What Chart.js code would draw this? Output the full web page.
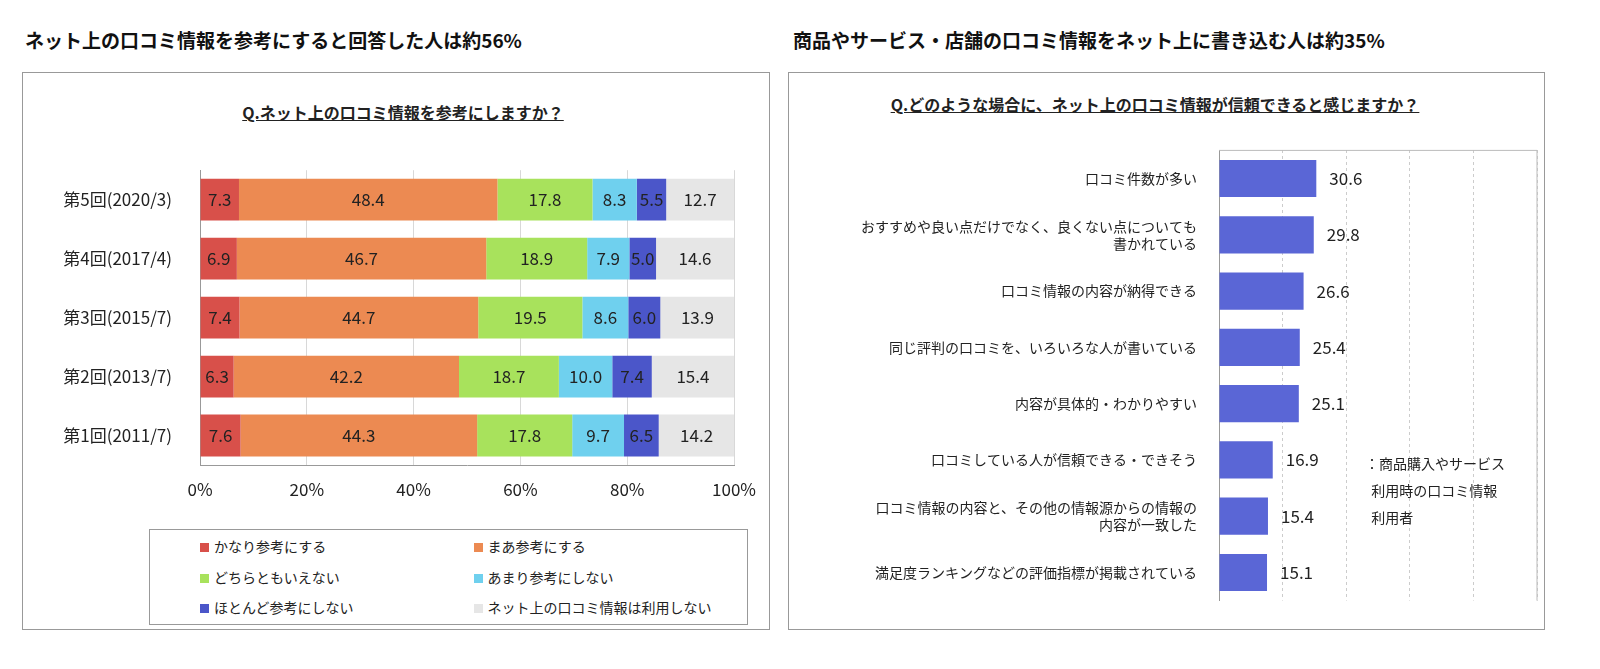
<!DOCTYPE html>
<html><head><meta charset="utf-8">
<script src="https://cdn.jsdelivr.net/npm/chart.js@4"></script>
<style>
body{margin:0;width:1600px;height:669px;background:#fff;font-family:"Noto Sans CJK JP",sans-serif;position:relative;overflow:hidden}
.t{position:absolute;top:26px;font-size:19px;font-weight:bold;color:#111}
.box{position:absolute;border:1px solid #999;box-sizing:border-box}
.sub{position:absolute;font-size:16px;font-weight:bold;text-decoration:underline;color:#222;white-space:nowrap;transform:translateX(-50%)}
.cv{position:absolute}
.leg{position:absolute;left:149px;top:529px;width:599px;height:96px;border:1px solid #999;box-sizing:border-box;display:grid;grid-template-columns:1fr 1fr;padding:6px 0 0 50px;font-size:14px;color:#222;row-gap:4px}
.leg span{display:inline-block;width:9px;height:9px;margin-right:5px}
.note{position:absolute;left:1365px;top:450px;font-size:14px;line-height:27px;color:#222}
</style></head><body>
<div class="t" style="left:25px">ネット上の口コミ情報を参考にすると回答した人は約56%</div>
<div class="t" style="left:793px">商品やサービス・店舗の口コミ情報をネット上に書き込む人は約35%</div>
<div class="box" style="left:22px;top:72px;width:748px;height:558px"></div>
<div class="box" style="left:788px;top:72px;width:757px;height:558px"></div>
<div class="sub" style="left:403px;top:100px">Q.ネット上の口コミ情報を参考にしますか？</div>
<div class="sub" style="left:1155px;top:92px">Q.どのような場合に、ネット上の口コミ情報が信頼できると感じますか？</div>
<div class="cv" style="left:22px;top:140px;width:748px;height:370px"><canvas id="left"></canvas></div>
<div class="cv" style="left:788px;top:128px;width:757px;height:495px"><canvas id="right"></canvas></div>
<div class="leg" id="leg"></div>
<div class="note">：商品購入やサービス<br>&nbsp;&nbsp;利用時の口コミ情報<br>&nbsp;&nbsp;利用者</div>
<script>
var rounds = ['第5回(2020/3)', '第4回(2017/4)', '第3回(2015/7)', '第2回(2013/7)', '第1回(2011/7)'];
var seriesNames = ['かなり参考にする', 'まあ参考にする', 'どちらともいえない', 'あまり参考にしない', 'ほとんど参考にしない', 'ネット上の口コミ情報は利用しない'];
var veryMuch = [7.3, 6.9, 7.4, 6.3, 7.6];
var somewhat = [48.4, 46.7, 44.7, 42.2, 44.3];
var neither = [17.8, 18.9, 19.5, 18.7, 17.8];
var notMuch = [8.3, 7.9, 8.6, 10.0, 9.7];
var hardly = [5.5, 5.0, 6.0, 7.4, 6.5];
var notUse = [12.7, 14.6, 13.9, 15.4, 14.2];
var colors = ['#d8504a', '#ec8a52', '#a8e25c', '#6fd0ee', '#4b56c9', '#e6e6e6'];

var reasons = [
  '口コミ件数が多い',
  ['おすすめや良い点だけでなく、良くない点についても', '書かれている'],
  '口コミ情報の内容が納得できる',
  '同じ評判の口コミを、いろいろな人が書いている',
  '内容が具体的・わかりやすい',
  '口コミしている人が信頼できる・できそう',
  ['口コミ情報の内容と、その他の情報源からの情報の', '内容が一致した'],
  '満足度ランキングなどの評価指標が掲載されている'
];
var reasonValues = [30.6, 29.8, 26.6, 25.4, 25.1, 16.9, 15.4, 15.1];

var font = "'Noto Sans CJK JP', sans-serif";
Chart.defaults.font.family = font;
Chart.defaults.color = '#222';

var segLabels = {
  id: 'segLabels',
  afterDatasetsDraw: function (chart) {
    var ctx = chart.ctx;
    ctx.save();
    ctx.font = '17px ' + font;
    ctx.fillStyle = '#222';
    ctx.textAlign = 'center';
    ctx.textBaseline = 'middle';
    chart.data.datasets.forEach(function (ds, i) {
      chart.getDatasetMeta(i).data.forEach(function (bar, j) {
        ctx.fillText(ds.data[j].toFixed(1), (bar.x + bar.base) / 2, bar.y);
      });
    });
    ctx.restore();
  }
};

var endLabels = {
  id: 'endLabels',
  afterDatasetsDraw: function (chart) {
    var ctx = chart.ctx, a = chart.chartArea;
    ctx.save();
    ctx.strokeStyle = '#bbb';
    ctx.beginPath();
    ctx.moveTo(a.left, a.top); ctx.lineTo(a.right, a.top); ctx.lineTo(a.right, a.bottom);
    ctx.stroke();
    ctx.font = '17px ' + font;
    ctx.fillStyle = '#222';
    ctx.textBaseline = 'middle';
    chart.getDatasetMeta(0).data.forEach(function (bar, j) {
      ctx.fillText(reasonValues[j].toFixed(1), bar.x + 13, bar.y);
    });
    ctx.restore();
  }
};

var leftData = [veryMuch, somewhat, neither, notMuch, hardly, notUse];
new Chart(document.getElementById('left'), {
  type: 'bar',
  data: {
    labels: rounds,
    datasets: leftData.map(function (d, i) {
      return { label: seriesNames[i], data: d, backgroundColor: colors[i], categoryPercentage: 0.71, barPercentage: 1 };
    })
  },
  options: {
    indexAxis: 'y', responsive: true, maintainAspectRatio: false, animation: false,
    layout: { padding: { top: 7, right: 32 } },
    plugins: { legend: { display: false }, tooltip: { enabled: false } },
    scales: {
      x: {
        stacked: true, min: 0, max: 100,
        ticks: { stepSize: 20, callback: function (v) { return v + '%'; }, font: { size: 17 }, padding: 14 },
        grid: { color: '#d8d8d8', drawTicks: false },
        border: { color: '#999' },
        afterFit: function (s) { s.height = 45; }
      },
      y: {
        stacked: true,
        ticks: { font: { size: 17 }, padding: 20 },
        grid: { display: false },
        border: { color: '#999' },
        afterFit: function (s) { s.width = 178; }
      }
    }
  },
  plugins: [segLabels]
});

new Chart(document.getElementById('right'), {
  type: 'bar',
  data: {
    labels: reasons,
    datasets: [{ data: reasonValues, backgroundColor: '#5a66d6', categoryPercentage: 0.66, barPercentage: 1 }]
  },
  options: {
    indexAxis: 'y', responsive: true, maintainAspectRatio: false, animation: false,
    layout: { padding: { top: 5, right: 8, bottom: 6 } },
    plugins: { legend: { display: false }, tooltip: { enabled: false } },
    scales: {
      x: {
        min: 0, max: 100,
        ticks: { display: false, stepSize: 20 },
        grid: { color: '#ccc', drawTicks: false },
        border: { display: false, dash: [3, 3] },
        position: 'top'
      },
      y: {
        ticks: { font: { size: 14 }, padding: 14 },
        grid: { display: false },
        border: { color: '#999' },
        afterFit: function (s) { s.width = 431; }
      }
    }
  },
  plugins: [endLabels]
});

var leg = document.getElementById('leg');
seriesNames.forEach(function (n, i) {
  var d = document.createElement('div');
  d.innerHTML = '<span style="background:' + colors[i] + '"></span>' + n;
  leg.appendChild(d);
});
</script>
</body></html>
